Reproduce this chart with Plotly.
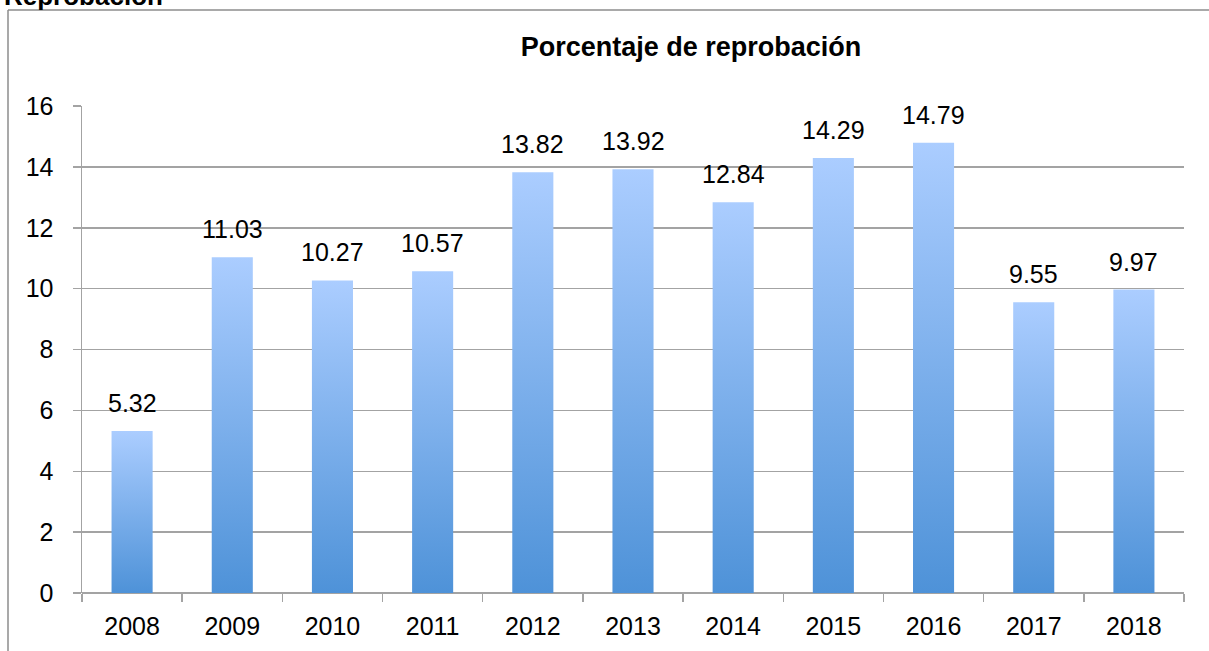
import plotly.graph_objects as go

years = ["2008", "2009", "2010", "2011", "2012", "2013", "2014", "2015", "2016", "2017", "2018"]
values = [5.32, 11.03, 10.27, 10.57, 13.82, 13.92, 12.84, 14.29, 14.79, 9.55, 9.97]
value_labels = ["5.32", "11.03", "10.27", "10.57", "13.82", "13.92", "12.84", "14.29", "14.79", "9.55", "9.97"]

FONT = "Liberation Sans, Arial, sans-serif"
GRID = "#a3a3a3"
FRAME = "#8c8c8c"
BAR_W = 0.41

fig = go.Figure()
for i, v in enumerate(values):
    fig.add_trace(go.Scatter(
        x=[i - BAR_W / 2, i - BAR_W / 2, i + BAR_W / 2, i + BAR_W / 2, i - BAR_W / 2],
        y=[0, v, v, 0, 0],
        mode="lines",
        fill="toself",
        fillgradient=dict(type="vertical", colorscale=[[0, "#4e92d8"], [1, "#abcdff"]]),
        line=dict(width=0, color="rgba(0,0,0,0)"),
        hoverinfo="skip",
        showlegend=False,
    ))

for i, (v, t) in enumerate(zip(values, value_labels)):
    fig.add_annotation(x=i, y=v, text=t, showarrow=False, yanchor="bottom", yshift=12,
                       font=dict(family=FONT, size=25, color="#000000"))

fig.add_annotation(text="<b>Reprobación</b>", xref="paper", yref="paper",
                   x=(2 - 82) / 1102, y=(593 + 4) / 487, xanchor="left", yanchor="middle",
                   showarrow=False, font=dict(family=FONT, size=26, color="#000000"))

# chart frame (left and top edges visible)
fig.add_shape(type="line", xref="paper", yref="paper",
              x0=(8 - 82) / 1102, x1=(8 - 82) / 1102, y0=-0.3, y1=(593 - 10) / 487,
              line=dict(color=FRAME, width=1.5), layer="below")
fig.add_shape(type="line", xref="paper", yref="paper",
              x0=(8 - 82) / 1102, x1=1.2, y0=(593 - 10) / 487, y1=(593 - 10) / 487,
              line=dict(color=FRAME, width=1.5), layer="below")

fig.update_layout(
    width=1209, height=651,
    margin=dict(l=82, r=25, t=106, b=58),
    paper_bgcolor="white", plot_bgcolor="white",
    title=dict(text="<b>Porcentaje de reprobación</b>", x=691 / 1209, xref="container",
               xanchor="center", y=1 - 47 / 651, yref="container", yanchor="middle",
               font=dict(family=FONT, size=27, color="#000000")),
    font=dict(family=FONT, size=25, color="#000000"),
    showlegend=False,
)
fig.update_xaxes(
    range=[-0.5, len(years) - 0.5],
    tickmode="array", tickvals=list(range(len(years))), ticktext=years,
    ticks="", showgrid=False, zeroline=False,
    showline=False,
    ticklabelstandoff=16,
    minor=dict(tickmode="array", tickvals=[i - 0.5 for i in range(len(years) + 1)],
               ticks="outside", ticklen=8, tickwidth=1.5, tickcolor=GRID, showgrid=False),
    tickfont=dict(family=FONT, size=25, color="#000000"),
    fixedrange=True,
)
fig.update_yaxes(
    range=[0, 16], dtick=2, tick0=0,
    showgrid=True, gridcolor=GRID, gridwidth=1.5,
    zeroline=True, zerolinecolor=GRID, zerolinewidth=1.5,
    showline=True, linecolor=GRID, linewidth=1.5,
    ticks="outside", ticklen=8, tickwidth=1.5, tickcolor=GRID,
    ticklabelstandoff=14,
    tickfont=dict(family=FONT, size=25, color="#000000"),
    fixedrange=True,
)

fig.write_html("out.html",
               config={"displayModeBar": False, "staticPlot": True},
               post_script="document.body.style.margin='0';document.body.style.overflow='hidden';")
